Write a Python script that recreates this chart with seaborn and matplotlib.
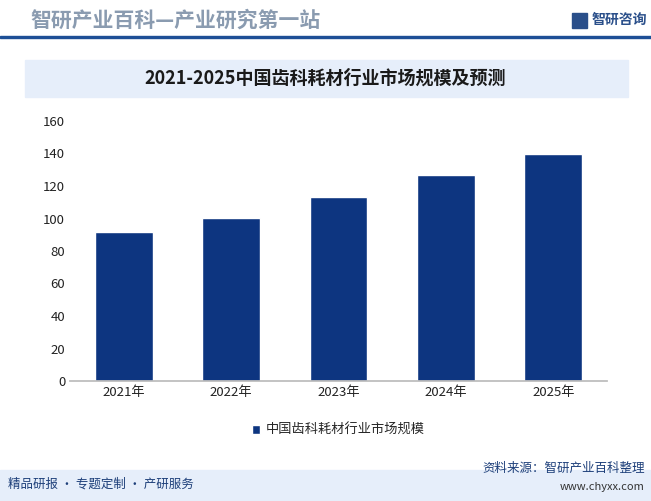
import matplotlib
matplotlib.use("Agg")
import matplotlib.pyplot as plt
import seaborn as sns
import pandas as pd
from matplotlib.patches import Rectangle

years = ["2021年", "2022年", "2023年", "2024年", "2025年"]
values = [91.7, 100.3, 113.2, 126.8, 139.7]
series_name = "中国齿科耗材行业市场规模"
yticks = [0, 20, 40, 60, 80, 100, 120, 140, 160]

sns.set_theme(style="white")
plt.rcParams['font.family'] = ['Noto Sans CJK SC', 'DejaVu Sans']

W, H = 651, 501
fig = plt.figure(figsize=(W/100, H/100), dpi=100)

def fx(x): return x / W
def fy(y): return 1 - y / H

# header
fig.text(fx(30), fy(20), "智研产业百科—产业研究第一站", fontsize=15, color="#8a9bb0", fontweight="bold", va="center")
fig.patches.append(Rectangle((fx(0), fy(38)), 1, 2/H, transform=fig.transFigure, color="#1d4f96"))
fig.text(fx(592), fy(20), "智研咨询", fontsize=10, color="#2a4f8a", va="center", fontweight="bold")
fig.patches.append(Rectangle((fx(572), fy(28)), 15/W, 15/H, transform=fig.transFigure, color="#2a4f8a"))

# title box
fig.patches.append(Rectangle((fx(25), fy(97)), 603/W, 37/H, transform=fig.transFigure, color="#e6eefa"))
fig.text(0.5, fy(78.5), "2021-2025中国齿科耗材行业市场规模及预测", fontsize=13, fontweight="bold", color="#1a1a1a", ha="center", va="center")

# footer
fig.patches.append(Rectangle((0, 0), 1, 31/H, transform=fig.transFigure, color="#e6eefa"))
fig.text(fx(8), fy(484), "精品研报 · 专题定制 · 产研服务", fontsize=9, color="#1d3f7a", va="center")
fig.text(fx(645), fy(468), "资料来源：智研产业百科整理", fontsize=9, color="#1d3f7a", va="center", ha="right")
fig.text(fx(645), fy(487), "www.chyxx.com", fontsize=8, color="#333333", va="center", ha="right")

ax = fig.add_axes([fx(70), fy(381), (607-70)/W, 260/H])
df = pd.DataFrame({"year": years, "value": values, "s": series_name})
sns.barplot(data=df, x="year", y="value", hue="s", palette=["#0d3580"], saturation=1, width=0.54, ax=ax)
ax.set_ylim(0, 160)
ax.set_yticks(yticks)
ax.set_xlabel(""); ax.set_ylabel("")
for s in ["top", "right", "left"]:
    ax.spines[s].set_visible(False)
ax.spines["bottom"].set_color("#bbbbbb")
ax.tick_params(axis="both", labelsize=9.5, colors="#222222", length=0)
leg = ax.legend(loc="upper center", bbox_to_anchor=(0.5, -0.12), frameon=False, fontsize=9.5,
                handlelength=0.6, handleheight=0.6, handletextpad=0.4)
fig.savefig("out.png", dpi=100)
